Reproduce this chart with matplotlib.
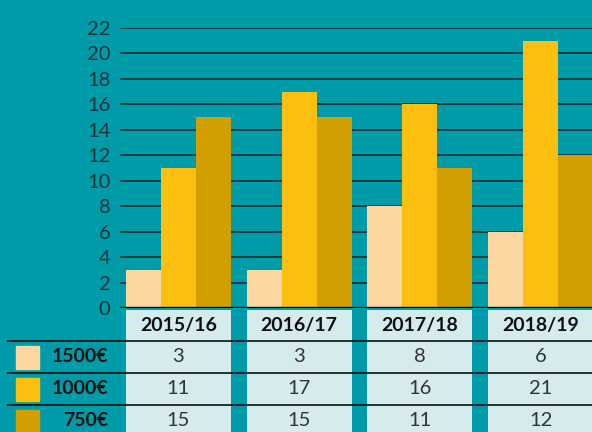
import numpy as np
import matplotlib
matplotlib.use("Agg")
import matplotlib.pyplot as plt
from matplotlib.patches import Rectangle
import matplotlib.transforms as mtransforms

plt.rcParams['font.family'] = ['Lato', 'DejaVu Sans']

# data
seasons = ["2015/16", "2016/17", "2017/18", "2018/19"]
prizes = ["1500€", "1000€", "750€"]
v1500 = [3, 3, 8, 6]
v1000 = [11, 17, 16, 21]
v750 = [15, 15, 11, 12]
yticks = list(range(0, 23, 2))

teal = "#009ba8"
cell = "#d6ebee"
colors = ["#fdd7a1", "#fbbf10", "#d29f00"]
series = [v1500, v1000, v750]

W, H = 592, 432
fig = plt.figure(figsize=(W / 100, H / 100), dpi=100)
fig.patch.set_facecolor(teal)

# bar area
x = np.arange(len(seasons))
bw = 35 / 121
left_px = 120
xl = (-(178.5 - left_px) / 121, 3 + (592 - 540.5) / 121)

ax = fig.add_axes([left_px / W, 1 - 308 / H, 1 - left_px / W, (308 - 28) / H])
ax.set_facecolor(teal)
for i, (vals, c) in enumerate(zip(series, colors)):
    ax.bar(x + (i - 1) * bw, vals, width=bw, color=c, zorder=3)
ax.set_xlim(*xl)
ax.set_ylim(0, 22)
ax.set_yticks(yticks)
ax.set_yticklabels([str(t) for t in yticks], fontsize=14.5, color="#17343a")
ax.tick_params(axis="y", length=0, pad=7)
ax.set_xticks([])
for s in ax.spines.values():
    s.set_visible(False)
ax.grid(axis="y", color="#133034", lw=1.2, zorder=1)
ax.axhline(0, color="#000000", lw=2.4, zorder=4)

# table area
tb = fig.add_axes([left_px / W, 0, 1 - left_px / W, (H - 308) / H])
tb.set_facecolor("none")
tb.set_xlim(*xl)
tb.set_ylim(3.875 - 0.03, -0.03)
tb.axis("off")

tb.bar(x, 4.5, bottom=0.03, width=3 * bw, color=cell, zorder=1)
for xi, s in zip(x, seasons):
    tb.text(xi, 0.52, s, ha="center", va="center", fontsize=14,
            fontweight="bold", color="#111111")
for r, vals in enumerate(series):
    for xi, v in zip(x, vals):
        tb.text(xi, r + 1.5, str(v), ha="center", va="center", fontsize=14.5,
                color="#333333")

trans = mtransforms.blended_transform_factory(tb.transAxes, tb.transData)
aw = W - left_px
tb.hlines([1, 2, 3], (7 - left_px) / aw, 1, transform=trans, color="#111111",
          lw=1.2, clip_on=False, zorder=3)
for r, (p, c) in enumerate(zip(prizes, colors)):
    tb.add_patch(Rectangle(((16 - left_px) / aw, r + 1 + 5 / 32), 23 / aw, 23 / 32,
                           transform=trans, color=c, clip_on=False))
    tb.text((108 - left_px) / aw, r + 1.5, p, transform=trans, ha="right",
            va="center", fontsize=14, fontweight="bold", color="#111111",
            clip_on=False)

fig.savefig("out.png", dpi=100, facecolor=teal)
